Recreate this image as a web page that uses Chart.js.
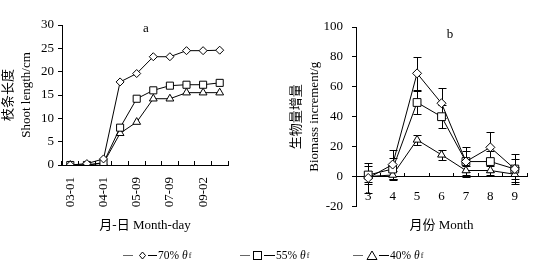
<!DOCTYPE html>
<html>
<head>
<meta charset="utf-8">
<script src="https://cdn.jsdelivr.net/npm/chart.js@4.4.0/dist/chart.umd.min.js"></script>
<style>
html,body{margin:0;padding:0;background:#fff;width:553px;height:269px;overflow:hidden;}
#ca{position:absolute;left:0;top:0;}
#cb{position:absolute;left:280px;top:0;}
.item{position:absolute;top:248px;height:14px;display:flex;align-items:center;white-space:nowrap;
  font-family:'Liberation Serif',serif;font-size:11.5px;color:#000;}
.item svg{display:block;}
.item i{margin-left:3px;}
.item sub{font-size:8px;vertical-align:-2px;margin-left:1px;}
</style>
</head>
<body>
<canvas id="ca" width="280" height="269"></canvas>
<canvas id="cb" width="273" height="269"></canvas>

<div class="item" style="left:123px">
  <svg width="35" height="12"><line x1="0" y1="6.5" x2="10" y2="6.5" stroke="#666" stroke-width="1"/><polygon points="19.5,3 22.5,6.5 19.5,10 16.5,6.5" fill="#fff" stroke="#000" stroke-width="1"/><line x1="25" y1="6.5" x2="34" y2="6.5" stroke="#000" stroke-width="1"/></svg>
  <span>70%</span><i>θ</i><sub>f</sub>
</div>
<div class="item" style="left:240px">
  <svg width="36" height="12"><line x1="0" y1="6.5" x2="10" y2="6.5" stroke="#666" stroke-width="1"/><rect x="13.5" y="2.5" width="8" height="8" fill="#fff" stroke="#000" stroke-width="1"/><line x1="24" y1="6.5" x2="35" y2="6.5" stroke="#000" stroke-width="1"/></svg>
  <span>55%</span><i>θ</i><sub>f</sub>
</div>
<div class="item" style="left:353px">
  <svg width="37" height="12"><line x1="0" y1="6.5" x2="10" y2="6.5" stroke="#666" stroke-width="1"/><polygon points="19,2 24,10.5 14,10.5" fill="#fff" stroke="#000" stroke-width="1"/><line x1="26" y1="6.5" x2="36" y2="6.5" stroke="#000" stroke-width="1"/></svg>
  <span>40%</span><i>θ</i><sub>f</sub>
</div>

<script>
// ---- Data: panel a (shoot length, cm) ----
const monthDays = ['03-01', '', '04-01', '', '05-09', '', '07-09', '', '09-02', ''];
const shoot70 = [0, 0.3, 1.3, 17.8, 19.6, 23.2, 23.2, 24.5, 24.5, 24.6];
const shoot55 = [0, 0, 0.5, 8.0, 14.2, 16.0, 17.0, 17.2, 17.2, 17.6];
const shoot40 = [0, 0, 0.4, 6.8, 9.2, 14.2, 14.2, 15.5, 15.5, 15.5];

// ---- Data: panel b (biomass increment, g) ----
const months = ['3', '4', '5', '6', '7', '8', '9'];
const bio70 = [-1, 8, 69, 49, 10, 19.5, 5];
const bio70Err = [10, 10, 11, 10, 10, 10, 10];
const bio55 = [1, 5, 49.5, 40, 10, 10, 5];
const bio55Err = [6, 7.5, 8, 7.5, 7, 7, 7];
const bio40 = [0, 1, 24.5, 14.5, 4, 4, 1.5];
const bio40Err = [4, 3, 3.5, 3.5, 3, 3, 5];

const seriesNames = ['70% θf', '55% θf', '40% θf'];
const yTicksA = {min: 0, max: 30, step: 5};
const yTicksB = {min: -20, max: 100, step: 20};

const FONT = "'Liberation Serif','Noto Sans CJK SC',serif";

function series(label, data, style, radius, errors) {
  const d = {
    label, data, borderColor: '#000', borderWidth: 1, backgroundColor: '#fff',
    pointStyle: style, pointRadius: radius, pointHoverRadius: radius, pointBorderWidth: 1,
    pointBackgroundColor: '#fff', pointBorderColor: '#000', tension: 0, fill: false
  };
  if (errors) d.errors = errors;
  return d;
}

function letterPlugin(text, x, y) {
  return {
    id: 'letter' + text,
    afterDraw(chart) {
      const c = chart.ctx;
      c.save();
      c.fillStyle = '#000';
      c.font = '13px ' + FONT;
      c.textAlign = 'center';
      c.textBaseline = 'middle';
      c.fillText(text, x, y);
      c.restore();
    }
  };
}

const errorBars = {
  id: 'errorBars',
  beforeDatasetsDraw(chart) {
    const {ctx, scales: {x, y}} = chart;
    ctx.save();
    ctx.strokeStyle = '#000';
    ctx.lineWidth = 1;
    chart.data.datasets.forEach(d => {
      if (!d.errors) return;
      d.data.forEach((v, i) => {
        const e = d.errors[i];
        const px = Math.round(x.getPixelForValue(i)) + 0.5;
        const t = Math.round(y.getPixelForValue(v + e)) + 0.5;
        const b = Math.round(y.getPixelForValue(v - e)) + 0.5;
        ctx.beginPath();
        ctx.moveTo(px, t); ctx.lineTo(px, b);
        ctx.moveTo(px - 4, t); ctx.lineTo(px + 4, t);
        ctx.moveTo(px - 4, b); ctx.lineTo(px + 4, b);
        ctx.stroke();
      });
    });
    ctx.restore();
  }
};

const tickFont = {family: FONT, size: 13};

new Chart(document.getElementById('ca'), {
  type: 'line',
  data: {
    labels: monthDays,
    datasets: [
      series(seriesNames[0], shoot70, 'rectRot', 4),
      series(seriesNames[1], shoot55, 'rect', 5),
      series(seriesNames[2], shoot40, 'triangle', 4.5)
    ]
  },
  options: {
    responsive: false, animation: false, devicePixelRatio: 1,
    layout: {padding: {left: 0, right: 52, top: 25, bottom: 29}},
    plugins: {legend: {display: false}, tooltip: {enabled: false}},
    scales: {
      x: {
        type: 'category', offset: true,
        grid: {display: true, drawOnChartArea: false, offset: true, tickLength: -4, color: '#000', tickColor: '#000'},
        border: {display: true, color: '#000', width: 1},
        ticks: {autoSkip: false, maxRotation: 90, minRotation: 90, padding: 16, color: '#000', font: tickFont},
        title: {display: true, text: '月-日 Month-day', color: '#000', font: {family: FONT, size: 13}, padding: {top: 0, bottom: 7}},
        afterFit(s) { s.height = 75; }
      },
      y: {
        min: yTicksA.min, max: yTicksA.max,
        ticks: {stepSize: yTicksA.step, padding: 4, color: '#000', font: tickFont},
        grid: {display: true, drawOnChartArea: false, tickLength: 4, color: '#000', tickColor: '#000'},
        border: {display: true, color: '#000', width: 1},
        title: {display: true, text: ['枝条长度', 'Shoot length/cm'], color: '#000', font: {family: FONT, size: 13, lineHeight: 1.35}, padding: {top: 0, bottom: 0}},
        afterFit(s) { s.width = 62; }
      }
    }
  },
  plugins: [letterPlugin('a', 146, 29)]
});

new Chart(document.getElementById('cb'), {
  type: 'line',
  data: {
    labels: months,
    datasets: [
      series(seriesNames[0], bio70, 'rectRot', 4.5, bio70Err),
      series(seriesNames[1], bio55, 'rect', 5.5, bio55Err),
      series(seriesNames[2], bio40, 'triangle', 4.5, bio40Err)
    ]
  },
  options: {
    responsive: false, animation: false, devicePixelRatio: 1,
    layout: {padding: {left: 0, right: 26, top: 27, bottom: 32}},
    plugins: {
      legend: {display: false}, tooltip: {enabled: false},
      title: {display: true, text: '月份 Month', position: 'bottom', fullSize: false, color: '#000',
        font: {family: FONT, size: 13, weight: 'normal'}, padding: {top: 11, bottom: 4}}
    },
    scales: {
      x: {
        type: 'category', offset: true, position: {y: 0},
        grid: {display: true, drawOnChartArea: false, offset: true, tickLength: -4, color: '#000', tickColor: '#000'},
        border: {display: true, color: '#000', width: 1},
        ticks: {autoSkip: false, maxRotation: 0, minRotation: 0, padding: 16, color: '#000', font: tickFont}
      },
      y: {
        min: yTicksB.min, max: yTicksB.max,
        ticks: {stepSize: yTicksB.step, padding: 9, color: '#000', font: tickFont},
        grid: {display: true, drawOnChartArea: false, tickLength: 4, color: '#000', tickColor: '#000'},
        border: {display: true, color: '#000', width: 1},
        title: {display: true, text: ['生物量增量', 'Biomass increment/g'], color: '#000', font: {family: FONT, size: 13, lineHeight: 1.35}, padding: {top: 8, bottom: 0}},
        afterFit(s) { s.width = 76; }
      }
    }
  },
  plugins: [errorBars, letterPlugin('b', 170, 35)]
});
</script>
</body>
</html>
